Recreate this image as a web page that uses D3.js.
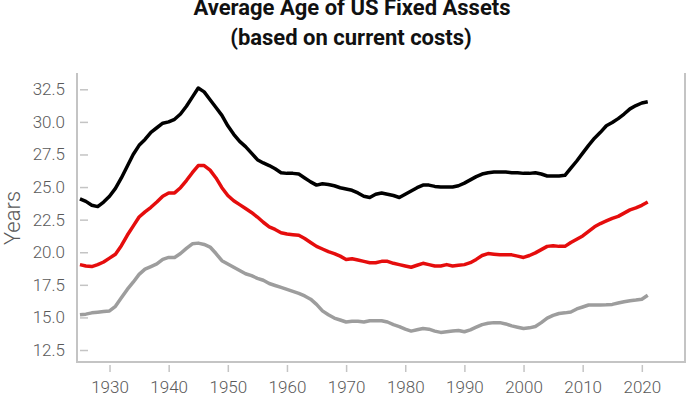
<!DOCTYPE html>
<head>
<meta charset="utf-8">
<script src="https://d3js.org/d3.v7.min.js"></script>
<style>
  body { margin: 0; background: #fff; }
  text { font-family: Roboto, "Open Sans", sans-serif; }
</style>
<title>Average Age of US Fixed Assets</title>
</head>
<body>
<div id="vis"></div>
<script>
// yearly values
const years = d3.range(1925, 2022)

const totalAssets = [
  24.1, 23.9, 23.6, 23.5, 23.85, 24.3, 24.9, 25.7, 26.6, 27.5,
  28.2, 28.65, 29.2, 29.55, 29.9, 30.0, 30.2, 30.6, 31.2, 31.9,
  32.6, 32.3, 31.7, 31.1, 30.5, 29.7, 29.05, 28.5, 28.1, 27.6,
  27.1, 26.85, 26.65, 26.4, 26.1, 26.05, 26.05, 26.0, 25.7, 25.4,
  25.15, 25.25, 25.2, 25.1, 24.95, 24.85, 24.75, 24.55, 24.3, 24.2,
  24.45, 24.55, 24.45, 24.35, 24.2, 24.45, 24.7, 24.95, 25.15, 25.15,
  25.05, 25.0, 25.0, 25.0, 25.1, 25.3, 25.55, 25.8, 26.0, 26.1,
  26.15, 26.15, 26.15, 26.1, 26.1, 26.05, 26.05, 26.1, 26.0, 25.85,
  25.85, 25.85, 25.9, 26.45, 27.0, 27.6, 28.2, 28.75, 29.2, 29.7,
  29.95, 30.25, 30.6, 31.0, 31.25, 31.45, 31.55
]

const redSeries = [
  19.05, 18.95, 18.9, 19.05, 19.25, 19.55, 19.85, 20.5, 21.3, 22.0,
  22.7, 23.1, 23.45, 23.85, 24.3, 24.55, 24.55, 24.95, 25.5, 26.1,
  26.65, 26.65, 26.3, 25.7, 24.95, 24.35, 23.95, 23.65, 23.35, 23.05,
  22.7, 22.3, 21.95, 21.75, 21.5, 21.4, 21.35, 21.3, 21.05, 20.75,
  20.45, 20.25, 20.05, 19.9, 19.7, 19.45, 19.5, 19.4, 19.3, 19.2,
  19.2, 19.3, 19.3, 19.15, 19.05, 18.95, 18.85, 19.0, 19.15, 19.05,
  18.95, 18.95, 19.05, 18.95, 19.0, 19.05, 19.2, 19.45, 19.75, 19.9,
  19.85, 19.8, 19.8, 19.8, 19.7, 19.6, 19.75, 19.95, 20.2, 20.45,
  20.5, 20.45, 20.45, 20.75, 21.0, 21.25, 21.6, 21.95, 22.2, 22.4,
  22.6, 22.75, 23.0, 23.25, 23.4, 23.6, 23.85
]

const graySeries = [
  15.2, 15.25, 15.35, 15.4, 15.45, 15.5, 15.85, 16.5, 17.15, 17.7,
  18.3, 18.7, 18.9, 19.1, 19.45, 19.6, 19.6, 19.9, 20.3, 20.65,
  20.7, 20.6, 20.4, 19.9, 19.35, 19.1, 18.85, 18.6, 18.35, 18.2,
  18.0, 17.85, 17.6, 17.45, 17.3, 17.15, 17.0, 16.85, 16.65, 16.4,
  16.0, 15.5, 15.2, 14.95, 14.8, 14.65, 14.7, 14.7, 14.65, 14.75,
  14.75, 14.75, 14.65, 14.45, 14.3, 14.1, 13.95, 14.05, 14.15, 14.1,
  13.95, 13.85, 13.9, 13.95, 14.0, 13.9, 14.05, 14.25, 14.45, 14.55,
  14.6, 14.6, 14.5, 14.35, 14.25, 14.15, 14.2, 14.3, 14.6, 14.95,
  15.15, 15.3, 15.35, 15.42, 15.65, 15.8, 15.95, 15.95, 15.95, 15.97,
  16.0, 16.1, 16.2, 16.28, 16.33, 16.4, 16.7
]

const xTicks = d3.range(1930, 2021, 10)
const yTicks = [12.5, 15, 17.5, 20, 22.5, 25, 27.5, 30, 32.5]

const series = [
  { name: 'gray', values: graySeries, color: '#9d9d9d' },
  { name: 'red', values: redSeries, color: '#e50d0d' },
  { name: 'black', values: totalAssets, color: '#000000' }
]

const width = 700
const height = 394
const plot = { left: 77, right: 685, top: 73, bottom: 362 }

const svg = d3.select('#vis')
  .append('svg')
  .attr('width', width)
  .attr('height', height)

const x = d3.scaleLinear()
  .domain([1924.5, 2027.3])
  .range([plot.left, plot.right])

const y = d3.scaleLinear()
  .domain([11.58, 33.75])
  .range([plot.bottom, plot.top])

// title
svg.append('text')
  .attr('x', 352).attr('y', 14.5)
  .attr('text-anchor', 'middle')
  .style('font-size', '22px').style('font-weight', 700).attr('fill', '#111')
  .text('Average Age of US Fixed Assets')
svg.append('text')
  .attr('x', 351).attr('y', 45)
  .attr('text-anchor', 'middle')
  .style('font-size', '22px').style('font-weight', 700).attr('fill', '#111')
  .text('(based on current costs)')

// axes
const axisColor = '#c4c4c4'
const labelColor = '#5a5a5a'

const yAxis = svg.append('g')
  .attr('transform', `translate(${plot.left},0)`)
  .call(d3.axisLeft(y).tickValues(yTicks).tickFormat(d3.format('.1f')).tickSize(-8).tickPadding(12))
yAxis.select('.domain').remove()
yAxis.selectAll('line').attr('x1', 3).attr('x2', 11).attr('stroke', axisColor).attr('stroke-width', 1.5)
yAxis.selectAll('text')
  .attr('fill', labelColor)
  .style('font-size', '17px').style('font-weight', 300)

const xAxis = svg.append('g')
  .attr('transform', `translate(0,${plot.bottom})`)
  .call(d3.axisBottom(x).tickValues(xTicks).tickFormat(d3.format('d')).tickSize(10).tickPadding(9))
xAxis.select('.domain').remove()
xAxis.selectAll('line').attr('y1', 3).attr('y2', 10).attr('stroke', axisColor).attr('stroke-width', 1.5)
xAxis.selectAll('text')
  .attr('fill', labelColor)
  .style('font-size', '17px').style('font-weight', 300)

// frame: left, bottom, right
svg.append('path')
  .attr('d', `M${plot.left},${plot.top}V${plot.bottom}H${plot.right}V${plot.top}`)
  .attr('fill', 'none')
  .attr('stroke', axisColor)
  .attr('stroke-width', 2)

svg.append('text')
  .attr('transform', `translate(20,218) rotate(-90)`)
  .attr('text-anchor', 'middle')
  .attr('fill', labelColor)
  .style('font-size', '22px').style('font-weight', 300)
  .text('Years')

// lines
const line = d3.line()
  .x((d, i) => x(years[i]))
  .y(d => y(d))

svg.selectAll('.series')
  .data(series)
  .enter()
  .append('path')
  .attr('class', 'series')
  .attr('d', d => line(d.values))
  .attr('fill', 'none')
  .attr('stroke', d => d.color)
  .attr('stroke-width', 3.5)
  .attr('stroke-linejoin', 'round')
</script>
</body>
